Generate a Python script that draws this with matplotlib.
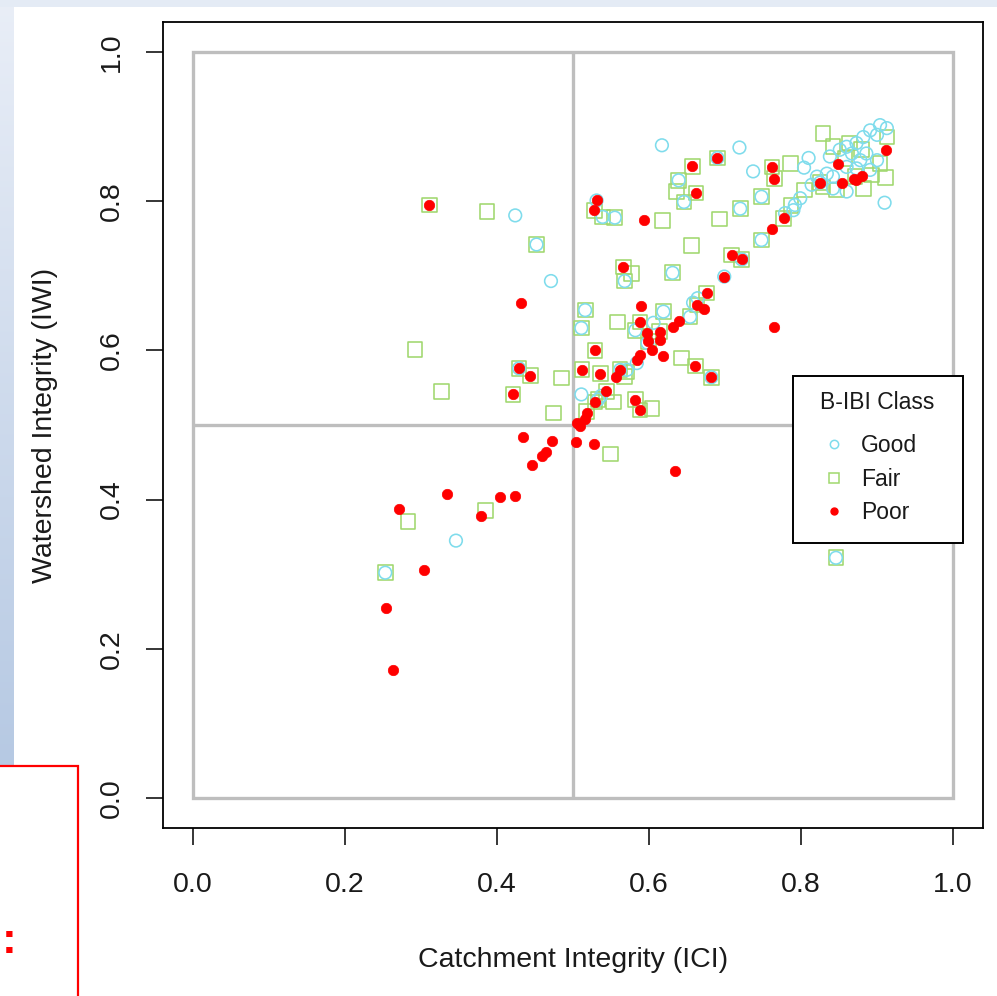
import numpy as np
import matplotlib
matplotlib.use("Agg")
import matplotlib.pyplot as plt
from matplotlib.patches import Rectangle
from matplotlib.lines import Line2D

plt.rcParams["font.family"] = ["Liberation Sans", "DejaVu Sans"]

# ---- site scores: catchment integrity (ICI) vs watershed integrity (IWI) ----
good_ici = [0.424, 0.452, 0.471, 0.429, 0.346, 0.253, 0.511, 0.516, 0.511, 0.582,
            0.619, 0.606, 0.682, 0.531, 0.539, 0.555, 0.617, 0.690, 0.639, 0.646,
            0.568, 0.631, 0.699, 0.719, 0.737, 0.810, 0.804, 0.748, 0.720, 0.748,
            0.722, 0.584, 0.571, 0.533, 0.537, 0.654, 0.910, 0.846, 0.790, 0.799,
            0.779, 0.814, 0.792, 0.904, 0.913, 0.900, 0.838, 0.851, 0.860, 0.873,
            0.882, 0.891, 0.867, 0.878, 0.886, 0.900, 0.891, 0.873, 0.860, 0.842,
            0.834, 0.821, 0.842, 0.860, 0.825, 0.658, 0.664, 0.562, 0.598]
good_iwi = [0.781, 0.742, 0.693, 0.576, 0.345, 0.302, 0.541, 0.654, 0.630, 0.627,
            0.652, 0.637, 0.564, 0.801, 0.779, 0.778, 0.875, 0.858, 0.828, 0.799,
            0.693, 0.704, 0.699, 0.872, 0.840, 0.858, 0.845, 0.806, 0.790, 0.748,
            0.722, 0.583, 0.574, 0.534, 0.539, 0.645, 0.798, 0.322, 0.788, 0.804,
            0.784, 0.822, 0.795, 0.902, 0.898, 0.889, 0.860, 0.869, 0.873, 0.878,
            0.886, 0.895, 0.864, 0.855, 0.864, 0.855, 0.842, 0.844, 0.846, 0.833,
            0.837, 0.833, 0.817, 0.813, 0.825, 0.664, 0.670, 0.574, 0.610]

fair_ici = [0.311, 0.387, 0.452, 0.292, 0.327, 0.429, 0.444, 0.421, 0.485, 0.474,
            0.385, 0.283, 0.253, 0.549, 0.512, 0.516, 0.511, 0.529, 0.536, 0.559,
            0.588, 0.582, 0.619, 0.643, 0.661, 0.682, 0.528, 0.539, 0.555, 0.618,
            0.693, 0.657, 0.690, 0.639, 0.636, 0.662, 0.646, 0.656, 0.566, 0.577,
            0.568, 0.631, 0.762, 0.765, 0.786, 0.829, 0.748, 0.720, 0.777, 0.748,
            0.709, 0.722, 0.676, 0.663, 0.654, 0.562, 0.568, 0.533, 0.553, 0.582,
            0.588, 0.604, 0.518, 0.529, 0.846, 0.599, 0.614, 0.571, 0.544, 0.842,
            0.864, 0.858, 0.880, 0.871, 0.893, 0.882, 0.904, 0.829, 0.847, 0.911,
            0.913, 0.805, 0.787, 0.825]
fair_iwi = [0.795, 0.786, 0.742, 0.601, 0.545, 0.576, 0.566, 0.541, 0.563, 0.516,
            0.385, 0.371, 0.302, 0.461, 0.574, 0.654, 0.630, 0.600, 0.569, 0.638,
            0.638, 0.627, 0.652, 0.590, 0.579, 0.564, 0.788, 0.779, 0.778, 0.774,
            0.776, 0.847, 0.858, 0.828, 0.813, 0.811, 0.799, 0.741, 0.712, 0.703,
            0.693, 0.704, 0.846, 0.830, 0.851, 0.891, 0.806, 0.790, 0.777, 0.748,
            0.728, 0.722, 0.677, 0.661, 0.645, 0.574, 0.565, 0.534, 0.531, 0.534,
            0.520, 0.522, 0.518, 0.531, 0.322, 0.612, 0.625, 0.571, 0.545, 0.873,
            0.878, 0.857, 0.869, 0.833, 0.835, 0.817, 0.851, 0.819, 0.815, 0.832,
            0.886, 0.815, 0.794, 0.825]

poor_ici = [0.311, 0.432, 0.429, 0.444, 0.421, 0.512, 0.536, 0.529, 0.434, 0.473,
            0.504, 0.527, 0.465, 0.459, 0.446, 0.334, 0.404, 0.424, 0.271, 0.379,
            0.304, 0.254, 0.263, 0.505, 0.509, 0.518, 0.516, 0.634, 0.531, 0.528,
            0.594, 0.657, 0.690, 0.662, 0.566, 0.589, 0.588, 0.619, 0.661, 0.682,
            0.762, 0.765, 0.777, 0.762, 0.709, 0.722, 0.699, 0.676, 0.672, 0.764,
            0.912, 0.825, 0.849, 0.854, 0.873, 0.598, 0.614, 0.632, 0.599, 0.614,
            0.604, 0.588, 0.584, 0.562, 0.557, 0.544, 0.582, 0.588, 0.529, 0.663,
            0.640, 0.870, 0.880]
poor_iwi = [0.795, 0.663, 0.576, 0.566, 0.541, 0.574, 0.569, 0.600, 0.484, 0.479,
            0.477, 0.474, 0.464, 0.458, 0.446, 0.408, 0.403, 0.405, 0.387, 0.378,
            0.306, 0.255, 0.171, 0.503, 0.498, 0.516, 0.508, 0.439, 0.801, 0.788,
            0.775, 0.847, 0.858, 0.811, 0.712, 0.660, 0.638, 0.592, 0.579, 0.564,
            0.846, 0.830, 0.777, 0.763, 0.728, 0.722, 0.699, 0.677, 0.655, 0.632,
            0.868, 0.825, 0.850, 0.824, 0.828, 0.623, 0.625, 0.632, 0.612, 0.614,
            0.601, 0.594, 0.587, 0.574, 0.565, 0.545, 0.534, 0.520, 0.531, 0.661,
            0.640, 0.830, 0.834]

classes = ["Good", "Fair", "Poor"]
class_colors = {"Good": "#7fdcec", "Fair": "#a0d86e", "Poor": "#ff0000"}
ticks = [0.0, 0.2, 0.4, 0.6, 0.8, 1.0]
tick_labels = ["0.0", "0.2", "0.4", "0.6", "0.8", "1.0"]
threshold = 0.5

W, H = 997, 996
fig = plt.figure(figsize=(W / 100, H / 100), dpi=100)
fig.patch.set_facecolor("white")

# ---- slide frame around the plot (pixel coordinates) ----
bg = fig.add_axes([0, 0, 1, 1], zorder=-5)
bg.set_xlim(0, W)
bg.set_ylim(H, 0)
bg.axis("off")
vgrad = np.linspace(0, 1, 256).reshape(-1, 1)
side_cmap = matplotlib.colors.LinearSegmentedColormap.from_list("side", ["#e9eef7", "#b6c9e3"])
bg.imshow(vgrad, cmap=side_cmap, extent=[0, 13, 766, 0], aspect="auto", zorder=0)
bg.add_patch(Rectangle((0, 0), W, 7, facecolor="#e4ebf5", edgecolor="none", zorder=0))
bg.add_patch(Rectangle((-5, 766), 83, 240, facecolor="white", edgecolor="#ff0000",
                       linewidth=1.6, zorder=1))
bg.text(9, 941, ":", color="#ff0000", fontsize=32, fontweight="bold",
        ha="center", va="center", zorder=2)

# ---- main scatter panel ----
ax = fig.add_axes([162.6 / W, 1 - 827.8 / H, 820.8 / W, 805.6 / H])
ax.set_facecolor("white")
ax.set_xlim(-0.04, 1.04)
ax.set_ylim(-0.04, 1.04)

grey = "#bebebe"
ax.add_patch(Rectangle((0, 0), 1, 1, fill=False, edgecolor=grey, linewidth=2.4, zorder=1))
ax.vlines(threshold, 0, 1, colors=grey, linewidth=2.4, zorder=1)
ax.hlines(threshold, 0, 1, colors=grey, linewidth=2.4, zorder=1)

ax.scatter(fair_ici, fair_iwi, marker="s", s=10.6 ** 2, facecolors="none",
           edgecolors=class_colors["Fair"], linewidths=1.15, zorder=2)
ax.scatter(good_ici, good_iwi, marker="o", s=9.1 ** 2, facecolors="none",
           edgecolors=class_colors["Good"], linewidths=1.15, zorder=3)
ax.scatter(poor_ici, poor_iwi, marker="o", s=7.5 ** 2, facecolors=class_colors["Poor"],
           edgecolors=class_colors["Poor"], linewidths=0.5, zorder=4)

for sp in ax.spines.values():
    sp.set_linewidth(1.3)
    sp.set_color("black")
ax.set_xticks(ticks)
ax.set_xticklabels(tick_labels)
ax.set_yticks(ticks)
ax.set_yticklabels(tick_labels, rotation=90, va="center")
ax.tick_params(axis="both", direction="out", length=12.2, width=1.1, labelsize=20.5,
               color="black", labelcolor="#1a1a1a")
ax.tick_params(axis="x", pad=19.5)
ax.tick_params(axis="y", pad=15)

ax.set_xlabel("Catchment Integrity (ICI)", fontsize=20.5, color="#1a1a1a")
ax.set_ylabel("Watershed Integrity (IWI)", fontsize=20.5, color="#1a1a1a")
ax.xaxis.set_label_coords(0.5, -0.148)
ax.yaxis.set_label_coords(-0.128, 0.5)

# ---- legend: framed box, title and class entries ----
ax.add_patch(Rectangle((0.768, 0.3535), 0.207, 0.2075, transform=ax.transAxes,
                       facecolor="white", edgecolor="black", linewidth=1.4, zorder=6))
ax.text(0.8704, 0.5193, "B-IBI Class", transform=ax.transAxes, ha="center",
        va="baseline", fontsize=16.5, color="#1a1a1a", zorder=7)
handles = [
    Line2D([], [], linestyle="none", marker="o", markersize=6.0, markerfacecolor="none",
           markeredgecolor=class_colors["Good"], markeredgewidth=1.1),
    Line2D([], [], linestyle="none", marker="s", markersize=6.5, markerfacecolor="none",
           markeredgecolor=class_colors["Fair"], markeredgewidth=1.1),
    Line2D([], [], linestyle="none", marker="o", markersize=5.0,
           markerfacecolor=class_colors["Poor"], markeredgecolor=class_colors["Poor"]),
]
leg = ax.legend(handles, classes, loc="upper left", bbox_to_anchor=(0.7985, 0.4948),
                frameon=False, fontsize=16.5, handlelength=1.0, handletextpad=0.66,
                labelspacing=0.47, borderpad=0.2, borderaxespad=0.0)
leg.set_zorder(7)
for t in leg.get_texts():
    t.set_color("#1a1a1a")

fig.savefig("out.png", dpi=100, facecolor="white")
